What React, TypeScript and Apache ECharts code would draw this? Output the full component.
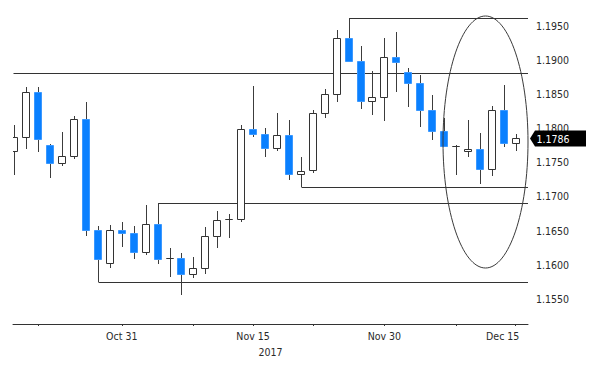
import { useEffect, useRef } from "react";
import * as echarts from "echarts";

// Trading days (EUR/USD daily candles)
const dates = [
  "2017-10-18", "2017-10-19", "2017-10-20", "2017-10-23", "2017-10-24", "2017-10-25", "2017-10-26", "2017-10-27", "2017-10-30", "2017-10-31",
  "2017-11-01", "2017-11-02", "2017-11-03", "2017-11-06", "2017-11-07", "2017-11-08", "2017-11-09", "2017-11-10", "2017-11-13", "2017-11-14", "2017-11-15",
  "2017-11-16", "2017-11-17", "2017-11-20", "2017-11-21", "2017-11-22", "2017-11-23", "2017-11-24", "2017-11-27", "2017-11-28", "2017-11-29", "2017-11-30",
  "2017-12-01", "2017-12-04", "2017-12-05", "2017-12-06", "2017-12-07", "2017-12-08", "2017-12-11", "2017-12-12", "2017-12-13", "2017-12-14", "2017-12-15",
];
const opens = [
  1.1767, 1.1787, 1.1853, 1.1776, 1.1749, 1.1760, 1.1814, 1.1651, 1.1602, 1.1651,
  1.1647, 1.1618, 1.1659, 1.1610, 1.1610, 1.1587, 1.1595, 1.1642, 1.1667, 1.1667, 1.1799,
  1.1792, 1.1771, 1.1790, 1.1733, 1.1739, 1.1822, 1.1850, 1.1932, 1.1899, 1.1840, 1.1846,
  1.1904, 1.1883, 1.1866, 1.1827, 1.1796, 1.1774, 1.1767, 1.1770, 1.1741, 1.1827, 1.1778,
];
const closes = [
  1.1787, 1.1853, 1.1784, 1.1749, 1.1760, 1.1813, 1.1651, 1.1608, 1.1651, 1.1646,
  1.1618, 1.1659, 1.1608, 1.1610, 1.1587, 1.1595, 1.1642, 1.1665, 1.1667, 1.1799, 1.1792,
  1.1771, 1.1790, 1.1733, 1.1738, 1.1822, 1.1851, 1.1933, 1.1898, 1.1840, 1.1846, 1.1904,
  1.1897, 1.1866, 1.1827, 1.1796, 1.1774, 1.1774, 1.1770, 1.1741, 1.1827, 1.1778, 1.1786,
];
const lows = [
  1.1732, 1.1769, 1.1765, 1.1727, 1.1744, 1.1755, 1.1642, 1.1575, 1.1595, 1.1626,
  1.1608, 1.1614, 1.1601, 1.1582, 1.1556, 1.1580, 1.1587, 1.1624, 1.1639, 1.1663, 1.1787,
  1.1758, 1.1766, 1.1724, 1.1714, 1.1734, 1.1815, 1.1839, 1.1898, 1.1828, 1.1820, 1.1811,
  1.1853, 1.1831, 1.1802, 1.1783, 1.1774, 1.1732, 1.1758, 1.1719, 1.1730, 1.1772, 1.1766,
];
const highs = [
  1.1805, 1.1860, 1.1860, 1.1777, 1.1794, 1.1818, 1.1838, 1.1657, 1.1658, 1.1662,
  1.1657, 1.1688, 1.1690, 1.1625, 1.1617, 1.1612, 1.1656, 1.1679, 1.1675, 1.1805, 1.1862,
  1.1801, 1.1823, 1.1812, 1.1758, 1.1827, 1.1857, 1.1944, 1.1962, 1.1921, 1.1884, 1.1933,
  1.1941, 1.1888, 1.1878, 1.1849, 1.1815, 1.1775, 1.1812, 1.1793, 1.1833, 1.1863, 1.1792,
];

// Y-axis tick labels
const yTickLabels = [1.155, 1.16, 1.165, 1.17, 1.175, 1.18, 1.185, 1.19, 1.195];
// Candle numbers (1-based) carrying x ticks / labels
const xTickCandles = [3, 10, 16, 21, 26, 32, 38, 43];
const xLabelCandles = [10, 21, 32, 43];
const yearLabel = "2017";

// Hand-drawn support / resistance levels and the candle they start from (0 = whole width)
const levelValues = [1.1962, 1.1881, 1.1714, 1.169, 1.1575];
const levelStartCandles = [29, 0, 25, 13, 8];

const MONTHS = ["Jan", "Feb", "Mar", "Apr", "May", "Jun", "Jul", "Aug", "Sep", "Oct", "Nov", "Dec"];
const fmtDate = (s: string) => {
  const [, m, d] = s.split("-");
  return `${MONTHS[parseInt(m, 10) - 1]} ${parseInt(d, 10)}`;
};

const FONT = "'DejaVu Sans Condensed', 'Liberation Sans Narrow', 'DejaVu Sans', sans-serif";
const TEXT = "#2a2a2a";

export default function App() {
  const ref = useRef<HTMLDivElement>(null);
  useEffect(() => {
    document.body.style.margin = "0";
    if (!ref.current) return;
    const chart = echarts.init(ref.current, undefined, { renderer: "svg" });

    const xMin = 0.89;
    const xMax = 44.03;
    const yMin = 1.151305;
    const yMax = 1.197639;

    const candleData = dates.map((_, i) => [i + 1, opens[i], closes[i], lows[i], highs[i]]);
    const levelData = levelValues.map((v, i) => [levelStartCandles[i] === 0 ? xMin : levelStartCandles[i], v]);
    const lastPrice = closes[closes.length - 1];

    chart.setOption({
      animation: false,
      grid: { left: 13, right: 72, top: 8, bottom: 44 },
      xAxis: {
        type: "value",
        min: xMin,
        max: xMax,
        splitLine: { show: false },
        axisLine: { show: true, lineStyle: { color: "#333", width: 1 } },
        axisTick: { show: true, customValues: xTickCandles, length: 2, lineStyle: { color: "#333" } },
        axisLabel: {
          customValues: xLabelCandles,
          margin: 4,
          color: TEXT,
          fontFamily: FONT,
          fontSize: 10.5,
          formatter: (v: number) => {
            const idx = Math.round(v);
            const label = fmtDate(dates[idx - 1]);
            if (idx === 21) return `{a|${label}}\n{y|${yearLabel}}`;
            if (idx === dates.length) return `{e|${label}}`;
            return `{a|${label}}`;
          },
          rich: {
            a: { fontFamily: FONT, fontSize: 10.5, color: TEXT, lineHeight: 16 },
            y: { fontFamily: FONT, fontSize: 10.5, color: TEXT, lineHeight: 16, padding: [0, 0, 0, 35] },
            e: { fontFamily: FONT, fontSize: 10.5, color: TEXT, lineHeight: 16, padding: [0, 26, 0, 0] },
          },
        },
      },
      yAxis: {
        type: "value",
        position: "right",
        min: yMin,
        max: yMax,
        splitLine: { show: false },
        axisLine: { show: false },
        axisTick: { show: false },
        axisLabel: {
          customValues: yTickLabels,
          margin: 8,
          color: TEXT,
          fontFamily: FONT,
          fontSize: 10.5,
          formatter: (v: number) => v.toFixed(4),
        },
      },
      series: [
        {
          type: "custom",
          clip: true,
          silent: true,
          data: levelData,
          encode: { x: 0, y: 1 },
          renderItem: (params: any, api: any) => {
            const s = api.coord([api.value(0), api.value(1)]);
            const e = api.coord([xMax, api.value(1)]);
            const y = Math.round(s[1]) + 0.5;
            return {
              type: "line",
              shape: { x1: Math.round(s[0]) + 0.5, y1: y, x2: e[0], y2: y },
              style: { stroke: "#333", lineWidth: 1 },
            };
          },
        },
        {
          type: "custom",
          clip: true,
          silent: true,
          data: candleData,
          encode: { x: 0, y: [1, 2, 3, 4] },
          renderItem: (params: any, api: any) => {
            const x = api.value(0);
            const o = api.value(1);
            const c = api.value(2);
            const l = api.value(3);
            const h = api.value(4);
            const pO = api.coord([x, o]);
            const pC = api.coord([x, c]);
            const pL = api.coord([x, l]);
            const pH = api.coord([x, h]);
            const up = c >= o;
            const left = Math.round(pO[0] - 4) + 0.5;
            const wx = left + 3.5;
            const top = Math.round(Math.min(pO[1], pC[1])) + 0.5;
            const bot = Math.round(Math.max(pO[1], pC[1])) + 0.5;
            return {
              type: "group",
              children: [
                {
                  type: "line",
                  shape: { x1: wx + 0.5, y1: Math.round(pH[1]), x2: wx + 0.5, y2: Math.round(pL[1]) },
                  style: { stroke: "#3c3c3c", lineWidth: 1 },
                },
                {
                  type: "rect",
                  shape: { x: left, y: top, width: 7, height: bot - top },
                  style: {
                    fill: up ? "#ffffff" : "#0a80ff",
                    stroke: up ? "#333333" : "#3a98ff",
                    lineWidth: 1,
                  },
                },
              ],
            };
          },
        },
      ],
    });

    const p = chart.convertToPixel({ gridIndex: 0 }, [xMax, lastPrice]) as number[];
    const tip = Math.round(p[0]) + 2;
    const yc = Math.round(p[1]) + 0.5;
    chart.setOption({
      graphic: [
        {
          type: "ellipse",
          z: 50,
          silent: true,
          shape: { cx: 485.5, cy: 142, rx: 42.5, ry: 126 },
          style: { fill: "none", stroke: "#3a3a3a", lineWidth: 1 },
        },
        {
          type: "polygon",
          z: 100,
          silent: true,
          shape: {
            points: [
              [tip, yc],
              [tip + 5, yc - 8],
              [tip + 56, yc - 8],
              [tip + 56, yc + 8],
              [tip + 5, yc + 8],
            ],
          },
          style: { fill: "#000000" },
        },
        {
          type: "text",
          z: 101,
          silent: true,
          x: tip + 6.5,
          y: yc,
          style: {
            text: lastPrice.toFixed(4),
            fill: "#ffffff",
            font: `10.5px ${FONT}`,
            textVerticalAlign: "middle",
            verticalAlign: "middle",
            align: "left",
          },
        },
      ],
    });

    return () => chart.dispose();
  }, []);
  return <div ref={ref} style={{ width: 600, height: 368 }} />;
}
